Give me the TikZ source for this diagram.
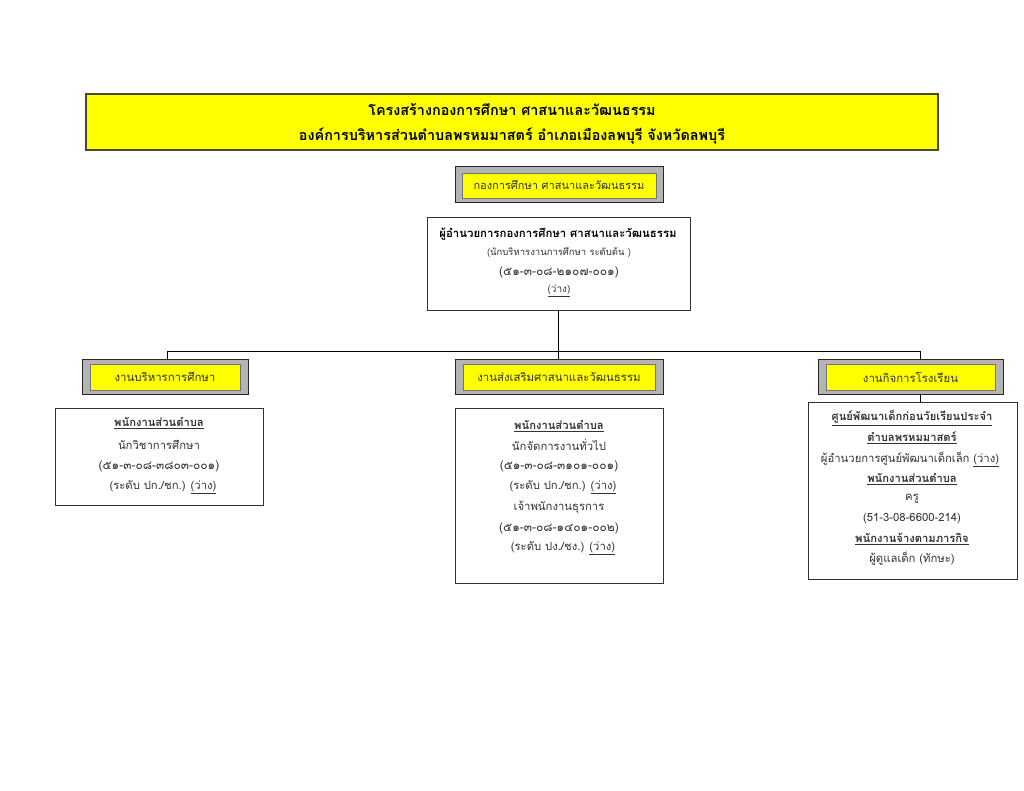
\documentclass[tikz,border=0pt]{standalone}
\usepackage{fontspec}
\setmainfont[Script=Thai]{Loma}
\newfontfamily\thai[Script=Thai]{Loma}
\definecolor{ygold}{HTML}{FFFF00}
\definecolor{gbox}{HTML}{B4B4B4}
\definecolor{tdark}{HTML}{333333}
\definecolor{olive}{HTML}{4A4830}
\tikzset{
  every node/.style={inner sep=0pt, outer sep=0pt},
  titlebox/.style={draw=olive, line width=1.3pt, fill=ygold},
  greybox/.style={draw=black!85, line width=1pt, fill=gbox},
  yelbox/.style={draw=black!55, line width=0.4pt, fill=ygold},
  whitebox/.style={draw=black!80, line width=1pt, fill=white},
  txt/.style={text=tdark, font=\thai\fontsize{11.3}{13}\selectfont, anchor=center},
  codetxt/.style={text=tdark, font=\thai\fontsize{12}{13}\selectfont, anchor=center},
  btxt/.style={text=tdark, font=\thai\bfseries\fontsize{11.2}{13}\selectfont, anchor=center},
  ttxt/.style={text=black, font=\thai\bfseries\fontsize{14.4}{16}\selectfont, anchor=center},
  sectxt/.style={text=tdark, font=\thai\fontsize{11.4}{13}\selectfont, anchor=center},
  conn/.style={draw=black, line width=1pt},
}
\begin{document}
\begin{tikzpicture}[x=1pt,y=-1pt]
\useasboundingbox (0,0) rectangle (1024,791);
% title
\node[titlebox, minimum width=852pt, minimum height=56pt] (title) at (512,122) {};
\node[ttxt] (t1) at (512,110) {โครงสร้างกองการศึกษา ศาสนาและวัฒนธรรม};
\node[ttxt] (t2) at (512,136) {องค์การบริหารส่วนตำบลพรหมมาสตร์ อำเภอเมืองลพบุรี จังหวัดลพบุรี};
% division
\node[greybox, minimum width=208pt, minimum height=36pt] (div) at (559,185) {};
\node[yelbox, minimum width=194pt, minimum height=25pt] (divin) at (559,185.5) {};
\node[sectxt, font=\thai\fontsize{11}{12}\selectfont] (divt) at (559,185) {กองการศึกษา ศาสนาและวัฒนธรรม};
% director
\node[whitebox, minimum width=263pt, minimum height=92pt] (dir) at (558.5,264) {};
\node[btxt, text=black, font=\thai\bfseries\fontsize{11.4}{13}\selectfont] (dir1) at (558,234) {ผู้อำนวยการกองการศึกษา ศาสนาและวัฒนธรรม};
\node[txt, font=\thai\fontsize{9.5}{11}\selectfont] (dir2) at (559,253) {(นักบริหารงานการศึกษา ระดับต้น )};
\node[codetxt] (dir3) at (559,272) {(๕๑-๓-๐๘-๒๑๐๗-๐๐๑)};
\node[txt, font=\thai\fontsize{10}{11}\selectfont] (dir4) at (559,291) {\underline{(ว่าง)}};
% sections
\node[greybox, minimum width=166pt, minimum height=35pt] (s1) at (165,376.5) {};
\node[yelbox, minimum width=150pt, minimum height=26pt] (s1in) at (165,377) {};
\node[sectxt] (s1t) at (165,377) {งานบริหารการศึกษา};
\node[greybox, minimum width=208pt, minimum height=35pt] (s2) at (559,376.5) {};
\node[yelbox, minimum width=192pt, minimum height=26pt] (s2in) at (559,377) {};
\node[sectxt] (s2t) at (559,377) {งานส่งเสริมศาสนาและวัฒนธรรม};
\node[greybox, minimum width=185pt, minimum height=35pt] (s3) at (910.5,376.5) {};
\node[yelbox, minimum width=169pt, minimum height=26pt] (s3in) at (910.5,377) {};
\node[sectxt] (s3t) at (910.5,377) {งานกิจการโรงเรียน};
% connectors
\coordinate (j) at (558.5,351.5);
\coordinate (t1c) at (167.5,359);
\coordinate (t3c) at (920.5,359);
\draw[conn] (dir.south) -- (j);
\draw[conn] (t1c) |- (j) -| (t3c);
\draw[conn] (j) -- (j |- s2.north);
% details
\node[whitebox, minimum width=208pt, minimum height=97pt] (d1) at (159,456.5) {};
\node[btxt] (d1a) at (159,423) {\underline{พนักงานส่วนตำบล}};
\node[txt] (d1b) at (159,445) {นักวิชาการศึกษา};
\node[codetxt] (d1c) at (159,466) {(๕๑-๓-๐๘-๓๘๐๓-๐๐๑)};
\node[txt] (d1d) at (163,487) {(ระดับ ปก./ชก.) \underline{(ว่าง)}};

\node[whitebox, minimum width=208pt, minimum height=175pt] (d2) at (559,495.5) {};
\node[btxt] (d2a) at (559,426) {\underline{พนักงานส่วนตำบล}};
\node[txt] (d2b) at (559,445) {นักจัดการงานทั่วไป};
\node[codetxt] (d2c) at (559,466) {(๕๑-๓-๐๘-๓๑๐๑-๐๐๑)};
\node[txt] (d2d) at (563,487) {(ระดับ ปก./ชก.) \underline{(ว่าง)}};
\node[txt] (d2e) at (559,507) {เจ้าพนักงานธุรการ};
\node[codetxt] (d2f) at (559,528) {(๕๑-๓-๐๘-๑๔๐๑-๐๐๒)};
\node[txt] (d2g) at (563,548) {(ระดับ ปง./ชง.) \underline{(ว่าง)}};

\node[whitebox, minimum width=209pt, minimum height=177pt] (d3) at (912.5,490.5) {};
\draw[conn] (s3.south -| t3c) -- (d3.north -| t3c);
\node[btxt] (d3a) at (912,418) {\underline{ศูนย์พัฒนาเด็กก่อนวัยเรียนประจำ}};
\node[btxt] (d3b) at (912,438) {\underline{ตำบลพรหมมาสตร์}};
\node[txt] (d3c) at (910,459) {ผู้อำนวยการศูนย์พัฒนาเด็กเล็ก \underline{(ว่าง)}};
\node[btxt] (d3d) at (912,479) {\underline{พนักงานส่วนตำบล}};
\node[txt] (d3e) at (912,499) {ครู};
\node[txt] (d3f) at (912,519) {(51-3-08-6600-214)};
\node[btxt] (d3g) at (912,539) {\underline{พนักงานจ้างตามภารกิจ}};
\node[txt] (d3h) at (912,559) {ผู้ดูแลเด็ก (ทักษะ)};
\end{tikzpicture}
\end{document}
